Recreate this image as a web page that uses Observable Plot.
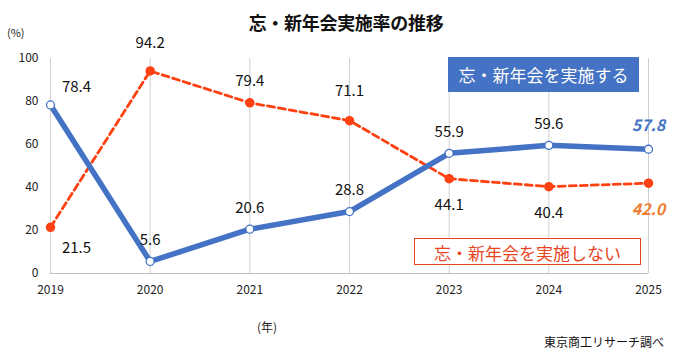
<!DOCTYPE html>
<html><head><meta charset="utf-8">
<script src="https://cdn.jsdelivr.net/npm/d3@7"></script>
<script src="https://cdn.jsdelivr.net/npm/@observablehq/plot@0.6"></script>
<style>
body{margin:0;background:#fff;font-family:"Noto Sans CJK JP","Noto Sans",sans-serif;}
#wrap{position:relative;width:675px;height:361px;overflow:hidden;}
.abs{position:absolute;white-space:nowrap;}
</style></head><body>
<div id="wrap"></div>
<script>
const years = [2019, 2020, 2021, 2022, 2023, 2024, 2025];
const held = [78.4, 5.6, 20.6, 28.8, 55.9, 59.6, 57.8];
const notHeld = [21.5, 94.2, 79.4, 71.1, 44.1, 40.4, 42.0];
const yTicks = [0, 20, 40, 60, 80, 100];
const title = "忘・新年会実施率の推移";
const heldName = "忘・新年会を実施する";
const notHeldName = "忘・新年会を実施しない";

const blue = "#4472C4", red = "#FF4011", orange = "#ED7D31";
const A = years.map((y,i)=>({year:y, v:held[i], i}));
const B = years.map((y,i)=>({year:y, v:notHeld[i], i}));
const last = years.length-1;
const font = "'Noto Sans CJK JP','Noto Sans',sans-serif";

const chart = Plot.plot({
  width: 675, height: 361,
  marginLeft: 50, marginRight: 27, marginTop: 58, marginBottom: 88,
  style: {fontFamily: font, fontSize: "12px", color: "#222", background: "#fff"},
  x: {domain: [2019, 2025], ticks: years, tickFormat: d3.format("d"), label: null},
  y: {domain: [0, 100], ticks: yTicks, label: null},
  marks: [
    Plot.ruleX(years, {stroke: "#d0d0d0", strokeWidth: 1}),
    Plot.ruleY([0], {stroke: "#bfbfbf", strokeWidth: 1.2}),
    Plot.axisX({ticks: years, tickSize: 0, tickPadding: 12, fontSize: 12, tickFormat: d3.format("d"), label: null}),
    Plot.axisY({ticks: yTicks, tickSize: 0, tickPadding: 12, fontSize: 12, label: null}),
    Plot.line(B, {x: "year", y: "v", stroke: red, strokeWidth: 2.8, strokeDasharray: "7,4"}),
    Plot.dot(B, {x: "year", y: "v", r: 4, fill: red, stroke: red}),
    Plot.line(A, {x: "year", y: "v", stroke: blue, strokeWidth: 5.5}),
    Plot.dot(A, {x: "year", y: "v", r: 4, fill: "#fff", stroke: blue, strokeWidth: 1.3}),
    // value labels: held
    Plot.text(A.filter(d=>d.i>0 && d.i<last), {x:"year", y:"v", text:d=>d.v.toFixed(1), dy:-21, fontSize:15, fill:"#111"}),
    Plot.text(A.filter(d=>d.i===0), {x:"year", y:"v", text:d=>d.v.toFixed(1), dx:26, dy:-18, fontSize:15, fill:"#111"}),
    Plot.text(A.filter(d=>d.i===last), {x:"year", y:"v", text:d=>d.v.toFixed(1), dy:-23, dx:0, fontSize:16, fontWeight:"bold", fontStyle:"italic", fill:blue}),
    // value labels: not held
    Plot.text(B.filter(d=>d.i===0), {x:"year", y:"v", text:d=>d.v.toFixed(1), dx:26, dy:21, fontSize:15, fill:"#111"}),
    Plot.text(B.filter(d=>d.i===1), {x:"year", y:"v", text:d=>d.v.toFixed(1), dy:-28, fontSize:15, fill:"#111"}),
    Plot.text(B.filter(d=>d.i===2), {x:"year", y:"v", text:d=>d.v.toFixed(1), dy:-22, fontSize:15, fill:"#111"}),
    Plot.text(B.filter(d=>d.i===3), {x:"year", y:"v", text:d=>d.v.toFixed(1), dy:-29, fontSize:15, fill:"#111"}),
    Plot.text(B.filter(d=>d.i>3 && d.i<last), {x:"year", y:"v", text:d=>d.v.toFixed(1), dy:27, fontSize:15, fill:"#111"}),
    Plot.text(B.filter(d=>d.i===last), {x:"year", y:"v", text:d=>d.v.toFixed(1), dy:27, fontSize:16, fontWeight:"bold", fontStyle:"italic", fill:orange})
  ]
});
const wrap = document.getElementById("wrap");
wrap.appendChild(chart);

function add(html, css){ const d=document.createElement("div"); d.className="abs"; d.textContent=html; Object.assign(d.style, css); wrap.appendChild(d); return d; }
add(title, {left:"246px", width:"200px", textAlign:"center", top:"9px", fontSize:"18px", lineHeight:"26px", fontWeight:"bold", color:"#111", letterSpacing:"-0.3px"});
add("(%)", {left:"7px", top:"24px", fontSize:"11px", color:"#222"});
add("(年)", {left:"257px", top:"318px", fontSize:"12px", color:"#222"});
add("東京商工リサーチ調べ", {right:"11px", top:"333px", fontSize:"12px", color:"#111"});
add(heldName, {left:"448px", top:"57px", width:"191px", height:"35px", lineHeight:"35px", textAlign:"center", background:blue, color:"#fff", fontSize:"17px"});
add(notHeldName, {left:"414px", top:"238px", width:"227px", height:"27px", lineHeight:"27px", textAlign:"center", border:"1.5px solid #E8451E", color:"#E8451E", fontSize:"17px", background:"#fff", boxSizing:"border-box"});
</script>
</body></html>
